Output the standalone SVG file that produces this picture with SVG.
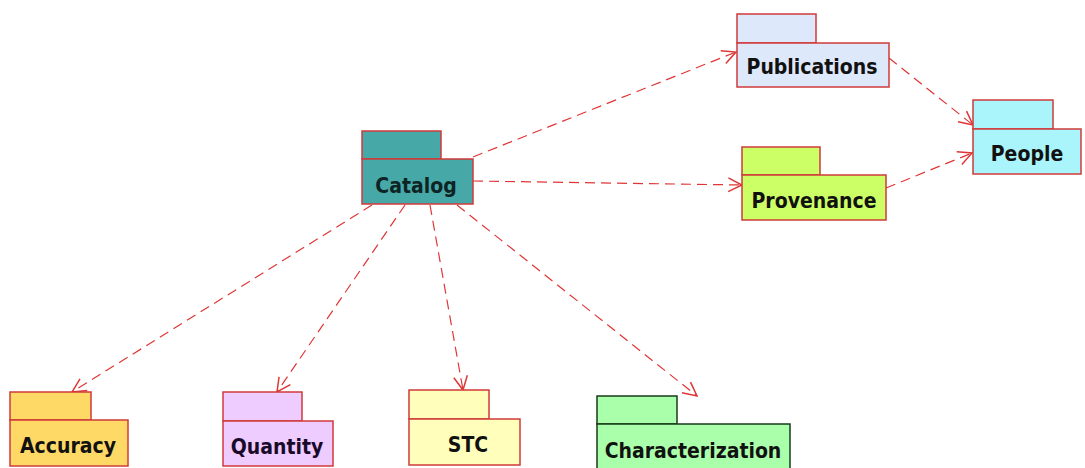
<svg xmlns="http://www.w3.org/2000/svg" width="1085" height="468" viewBox="0 0 1085 468">
<style>
.box{stroke:#d03a3a;stroke-width:1.5}
.lbl{font-family:"DejaVu Sans Condensed","DejaVu Sans",sans-serif;font-stretch:condensed;font-weight:bold;font-size:21px;fill:#111;text-anchor:middle}
.edge{fill:none;stroke:#e03535;stroke-width:1.2;stroke-dasharray:10,6}
</style>
<defs>
<marker id="arr" markerUnits="userSpaceOnUse" markerWidth="16" markerHeight="16" viewBox="0 0 14 14" refX="13" refY="7" orient="auto">
<path d="M1,1 L13,7 L1,13" fill="none" stroke="#e03535" stroke-width="1.3"/>
</marker>
</defs>
<rect width="1085" height="468" fill="#fff"/>
<g id="connectors">
<line class="edge" x1="473" y1="157" x2="736" y2="52" marker-end="url(#arr)"/>
<line class="edge" x1="473" y1="181" x2="742" y2="185" marker-end="url(#arr)"/>
<line class="edge" x1="889" y1="58" x2="973" y2="125" marker-end="url(#arr)"/>
<line class="edge" x1="886" y1="188" x2="972" y2="153" marker-end="url(#arr)"/>
<line class="edge" x1="372" y1="205" x2="72" y2="392" marker-end="url(#arr)"/>
<line class="edge" x1="405" y1="205" x2="277" y2="392" marker-end="url(#arr)"/>
<line class="edge" x1="430" y1="205" x2="463" y2="390" marker-end="url(#arr)"/>
<line class="edge" x1="457" y1="205" x2="697" y2="396" marker-end="url(#arr)"/>
</g>
<g id="catalog">
<rect class="box" x="362" y="131" width="79" height="28" fill="#47a8a8"/>
<rect class="box" x="362" y="159" width="111" height="45" fill="#47a8a8"/>
<text class="lbl" x="416" y="193" style="fill:#0e2424">Catalog</text>
</g>
<g id="publications">
<rect class="box" x="737" y="14" width="79" height="29" fill="#dde8fb"/>
<rect class="box" x="737" y="43" width="152" height="44" fill="#dde8fb"/>
<text class="lbl" x="812" y="74">Publications</text>
</g>
<g id="provenance">
<rect class="box" x="742" y="147" width="78" height="28" fill="#ccff66"/>
<rect class="box" x="742" y="175" width="144" height="45" fill="#ccff66"/>
<text class="lbl" x="814" y="208">Provenance</text>
</g>
<g id="people">
<rect class="box" x="973" y="100" width="80" height="29" fill="#aaf4fc"/>
<rect class="box" x="973" y="129" width="108" height="45" fill="#aaf4fc"/>
<text class="lbl" x="1027" y="161">People</text>
</g>
<g id="accuracy">
<rect class="box" x="10" y="392" width="81" height="28" fill="#ffd966"/>
<rect class="box" x="10" y="420" width="118" height="46" fill="#ffd966"/>
<text class="lbl" x="68" y="453">Accuracy</text>
</g>
<g id="quantity">
<rect class="box" x="223" y="392" width="79" height="29" fill="#eeccff"/>
<rect class="box" x="223" y="421" width="110" height="45" fill="#eeccff"/>
<text class="lbl" x="277" y="454" style="fill:#1a0a2a">Quantity</text>
</g>
<g id="stc">
<rect class="box" x="409" y="390" width="80" height="29" fill="#ffffbb"/>
<rect class="box" x="409" y="419" width="111" height="46" fill="#ffffbb"/>
<text class="lbl" x="468" y="452">STC</text>
</g>
<g id="characterization">
<rect x="597" y="396" width="80" height="28" fill="#aaffaa" stroke="#1a3a1a" stroke-width="1.5"/>
<rect x="597" y="424" width="193" height="50" fill="#aaffaa" stroke="#1a3a1a" stroke-width="1.5"/>
<text class="lbl" x="693" y="458">Characterization</text>
</g>
</svg>
